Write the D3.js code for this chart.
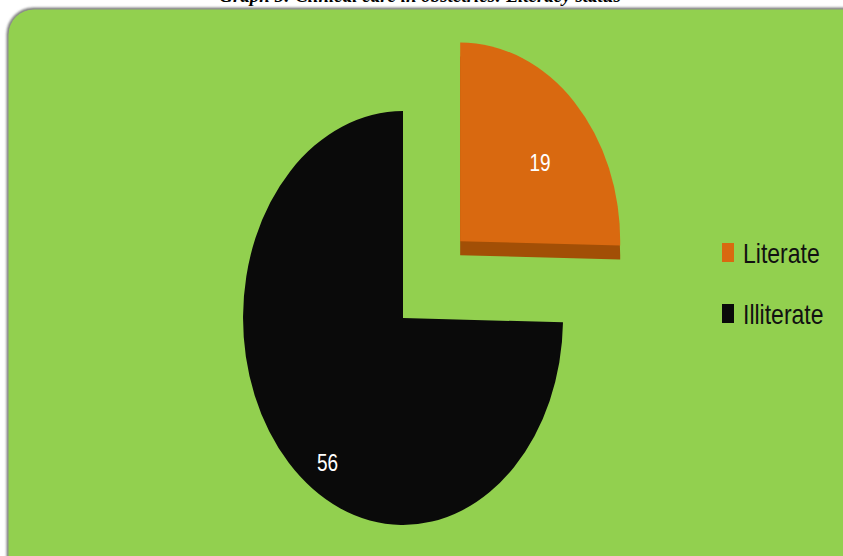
<!DOCTYPE html>
<html>
<head>
<meta charset="utf-8">
<script src="https://cdn.jsdelivr.net/npm/d3@7"></script>
<style>
  body { margin: 0; background: #fff; }
</style>
</head>
<body>
<div id="chart"></div>
<script>
// data
var categories = ["Literate", "Illiterate"];
var counts = [19, 56];
var colours = ["#d96910", "#0a0a0a"];
var sideColours = ["#a24f06", "#000000"];
var title = "Graph 5: Clinical care in obstetrics: Literacy status";

var width = 843, height = 556;

var svg = d3.select("#chart")
  .append("svg")
    .attr("width", width)
    .attr("height", height);

// title is cut off at the top in the original
svg.append("text")
    .attr("x", 420)
    .attr("y", 2)
    .attr("text-anchor", "middle")
    .style("font-family", "Liberation Serif")
    .style("font-weight", "bold")
    .style("font-style", "italic")
    .style("font-size", "19px")
    .text(title);

// shadow + green panel
var defs = svg.append("defs");
var f = defs.append("filter").attr("id", "shade")
    .attr("x", "-5%").attr("y", "-5%").attr("width", "110%").attr("height", "110%");
f.append("feDropShadow").attr("dx", -1).attr("dy", -1).attr("stdDeviation", 1)
    .attr("flood-color", "#777").attr("flood-opacity", 0.9);

svg.append("rect")
    .attr("x", 8).attr("y", 9)
    .attr("width", 870).attr("height", 580)
    .attr("rx", 26)
    .attr("fill", "#92d050")
    .attr("stroke", "#8c8c8c")
    .attr("stroke-width", 1)
    .attr("filter", "url(#shade)");

// pie geometry (tilted, so it is drawn as an ellipse)
var cx = 403, cy = 318, rx = 160, ry = 207;
var explodeX = [0.5, 0], explodeY = [0.53, 0];
var squash = [0.96, 1];   // exploded slice looks a bit flatter
var depth = 14;

var pie = d3.pie().sort(null).startAngle(0).endAngle(2 * Math.PI);
var arcs = pie(counts);
var arc = d3.arc().innerRadius(0).outerRadius(1);

var slices = svg.selectAll("g.slice")
  .data(arcs)
  .enter()
  .append("g")
    .attr("class", "slice")
    .attr("transform", function(d, i) {
      var a = (d.startAngle + d.endAngle) / 2;
      var ox = Math.sin(a) * explodeX[i] * rx,
          oy = -Math.cos(a) * explodeY[i] * ry;
      return "translate(" + (cx + ox) + "," + (cy + oy) + ")";
    });

// side (thickness) of the exploded slice
slices.filter(function(d, i) { return explodeX[i] > 0; })
  .append("path")
    .attr("transform", function(d) {
      return "translate(0," + depth + ") scale(" + rx + "," + (ry * squash[d.index]) + ")";
    })
    .attr("d", arc)
    .attr("fill", function(d) { return sideColours[d.index]; });

slices.append("path")
    .attr("transform", function(d) {
      return "scale(" + rx + "," + (ry * squash[d.index]) + ")";
    })
    .attr("d", arc)
    .attr("fill", function(d) { return colours[d.index]; });

// value labels
var labelR = [0.64, 0.84];
var labelShift = [0.1, -0.2];
slices.append("text")
    .attr("transform", function(d) {
      var a = (d.startAngle + d.endAngle) / 2 + labelShift[d.index];
      var x = Math.sin(a) * labelR[d.index] * rx;
      var y = -Math.cos(a) * labelR[d.index] * ry * squash[d.index];
      return "translate(" + x + "," + y + ") scale(1,1.3)";
    })
    .attr("dy", "0.36em")
    .attr("text-anchor", "middle")
    .attr("fill", "#fff")
    .style("font-family", "Liberation Sans, sans-serif")
    .style("font-size", "19px")
    .text(function(d) { return d.data; });

// legend
var legend = svg.selectAll("g.legend")
  .data(categories)
  .enter()
  .append("g")
    .attr("class", "legend")
    .attr("transform", function(d, i) { return "translate(722," + (253 + i * 61) + ")"; });

legend.append("rect")
    .attr("x", 0).attr("y", -10)
    .attr("width", 12).attr("height", 19)
    .attr("fill", function(d, i) { return colours[i]; });

legend.append("text")
    .attr("transform", "translate(21,10) scale(1,1.2)")
    .attr("fill", "#111")
    .style("font-family", "Liberation Sans, sans-serif")
    .style("font-size", "23px")
    .text(function(d) { return d; });
</script>
</body>
</html>
